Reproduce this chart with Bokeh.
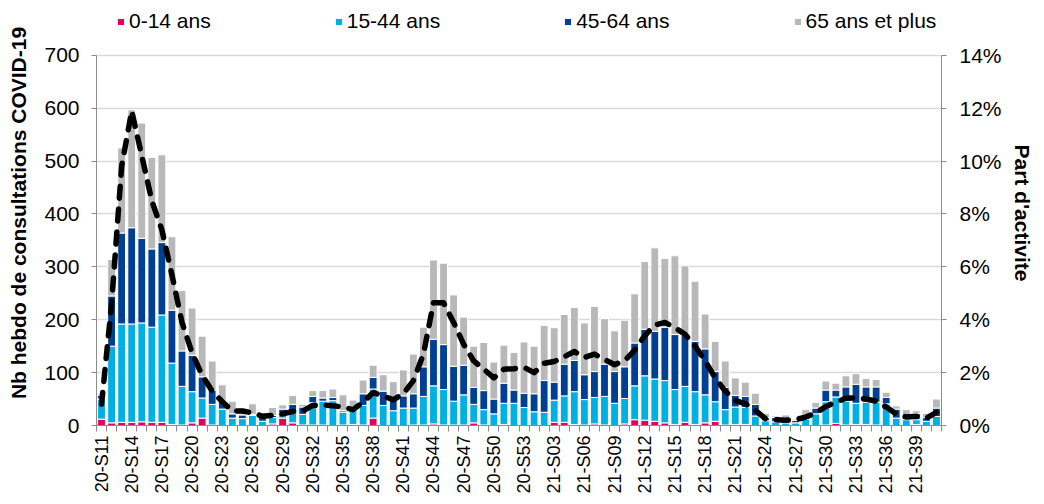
import math
from bokeh.plotting import figure
from bokeh.models import (ColumnDataSource, Range1d, LinearAxis, FixedTicker,
                          Legend, LegendItem, PrintfTickFormatter)
from bokeh.embed import file_html
from bokeh.resources import INLINE

# Weekly categories: 2020-S11 .. 2020-S53, 2021-S01 .. 2021-S41
weeks = [f"20-S{w:02d}" for w in range(11, 54)] + [f"21-S{w:02d}" for w in range(1, 42)]

age_0_14 = [12, 5, 6, 6, 7, 6, 6, 2, 1, 5, 14, 1, 0, 0, 0, 0, 0, 3, 14, 5,
            1, 1, 1, 0, 1, 2, 1, 14, 0, 0, 0, 1, 1, 3, 1, 1, 1, 5, 1, 0,
            2, 0, 0, 0, 0, 6, 6, 2, 1, 3, 1, 0, 3, 11, 10, 8, 5, 2, 6, 2,
            5, 8, 1, 2, 2, 0, 0, 0, 0, 0, 0, 0, 1, 4, 1, 2, 2, 1, 0, 0,
            0, 2, 0, 0]
age_15_44 = [38, 145, 186, 186, 187, 180, 203, 116, 73, 59, 38, 39, 31, 14, 13, 19, 8, 12, 10, 18,
             20, 42, 45, 47, 24, 28, 37, 55, 38, 28, 33, 32, 54, 72, 67, 45, 57, 35, 29, 22,
             40, 42, 34, 26, 25, 42, 50, 62, 48, 50, 54, 42, 48, 64, 84, 80, 80, 66, 68, 62,
             53, 37, 29, 33, 32, 18, 9, 7, 5, 5, 12, 22, 44, 50, 45, 40, 42, 43, 41, 14,
             11, 9, 8, 17]
age_45_64 = [7, 95, 172, 182, 160, 148, 137, 100, 67, 69, 40, 27, 15, 8, 7, 2, 8, 4, 7, 17,
             14, 12, 6, 6, 3, 5, 22, 22, 27, 20, 23, 27, 56, 88, 85, 66, 56, 32, 36, 28,
             38, 25, 27, 34, 60, 34, 60, 59, 47, 49, 61, 60, 60, 81, 88, 90, 101, 104, 97, 95,
             87, 57, 42, 22, 21, 22, 6, 8, 7, 5, 5, 11, 22, 13, 27, 36, 29, 29, 12, 17,
             4, 12, 7, 16]
age_65_plus = [3, 69, 161, 223, 218, 173, 166, 139, 114, 89, 77, 55, 31, 24, 13, 20, 8, 15, 8, 17,
               5, 11, 14, 16, 30, 13, 26, 23, 31, 35, 49, 75, 75, 150, 154, 135, 91, 78, 91, 70,
               72, 71, 97, 90, 104, 103, 94, 100, 98, 123, 86, 77, 88, 93, 128, 158, 130, 149, 131, 114,
               66, 57, 50, 33, 27, 21, 8, 3, 8, 2, 13, 11, 17, 13, 21, 20, 16, 14, 10, 6,
               15, 5, 8, 17]
# Share of activity (%), right axis
part_activite = [0.8, 4.6, 9.8, 11.9, 10.2, 8.5, 7.4, 5.7, 3.9, 2.75, 1.9, 1.3, 0.9, 0.55, 0.55, 0.48, 0.35, 0.38, 0.44, 0.53,
                 0.55, 0.76, 0.78, 0.75, 0.7, 0.6, 0.88, 1.25, 1.12, 0.97, 1.2, 1.7, 2.7, 4.64, 4.64, 3.9, 3.07, 2.44, 2.13, 1.8,
                 2.13, 2.15, 2.2, 2.0, 2.35, 2.42, 2.6, 2.8, 2.57, 2.7, 2.5, 2.3, 2.45, 2.85, 3.4, 3.8, 3.9, 3.7, 3.45, 3.0,
                 2.45, 1.8, 1.3, 0.95, 0.82, 0.57, 0.26, 0.22, 0.2, 0.22, 0.32, 0.47, 0.72, 0.88, 1.03, 1.05, 1.0, 0.92, 0.7, 0.44,
                 0.32, 0.35, 0.28, 0.5]

series_names = ["0-14 ans", "15-44 ans", "45-64 ans", "65 ans et plus"]
colors = ["#E4005B", "#00B0E2", "#003F91", "#B8B8B8"]
y_ticks = [0, 100, 200, 300, 400, 500, 600, 700]
pct_ticks = [0, 2, 4, 6, 8, 10, 12, 14]

FONT = "Liberation Sans"
AX_COLOR = "#8C8C8C"

# layout: the plot frame starts at the top of the figure so the legend can sit
# inside it; the value range is extended so that 700 lands ~55px from the top.
W, H = 1036, 496
TOP_700_PX = 55          # screen y of the 700 gridline
BOTTOM_PX = 426          # expected screen y of the baseline
y_max = 700 * BOTTOM_PX / (BOTTOM_PX - TOP_700_PX)

n = len(weeks)
x = list(range(n))
src = ColumnDataSource(dict(x=x, week=weeks, a=age_0_14, b=age_15_44, c=age_45_64,
                            d=age_65_plus, pct=part_activite))

p = figure(width=W, height=H, output_backend="svg", toolbar_location=None,
           x_range=Range1d(-0.5, n - 0.5), y_range=Range1d(0, y_max),
           min_border_left=96, min_border_right=88, min_border_top=0,
           min_border_bottom=H - BOTTOM_PX)
p.extra_y_ranges = {"pct": Range1d(0, y_max / 50)}
p.outline_line_color = None
p.background_fill_color = "white"

renderers = p.vbar_stack(["a", "b", "c", "d"], x="x", width=0.78, color=colors,
                         line_color="white", line_width=1, source=src)

p.line("x", "pct", source=src, y_range_name="pct", color="black", line_width=5.5,
       line_dash="12 11", line_cap="round", line_join="round")

# x axis
xax = p.xaxis[0]
xax.ticker = FixedTicker(ticks=list(range(0, n, 3)), minor_ticks=[i - 0.5 for i in range(n + 1)])
xax.major_label_overrides = {i: weeks[i] for i in range(0, n, 3)}
xax.major_label_orientation = math.pi / 2
xax.major_tick_in = 0
xax.major_tick_out = 0
xax.minor_tick_in = 0
xax.minor_tick_out = 6
xax.minor_tick_line_color = AX_COLOR
xax.axis_line_color = AX_COLOR
xax.major_label_standoff = 4
xax.major_label_text_font = FONT
xax.major_label_text_font_size = "18px"
xax.major_label_text_color = "black"

# left axis
yax = p.yaxis[0]
yax.ticker = FixedTicker(ticks=y_ticks)
yax.bounds = (0, 700)
yax.major_tick_in = 0
yax.major_tick_out = 5
yax.minor_tick_line_color = None
yax.axis_line_color = AX_COLOR
yax.major_tick_line_color = AX_COLOR
yax.major_label_standoff = 12
yax.major_label_text_font = FONT
yax.major_label_text_font_size = "21px"
yax.major_label_text_color = "black"
yax.axis_label = "Nb hebdo de consultations COVID-19"
yax.axis_label_text_font = FONT
yax.axis_label_text_font_size = "21px"
yax.axis_label_text_font_style = "bold"
yax.axis_label_text_color = "black"
yax.axis_label_standoff = 11

# right axis
rax = LinearAxis(y_range_name="pct", ticker=FixedTicker(ticks=pct_ticks),
                 formatter=PrintfTickFormatter(format="%d%%"), bounds=(0, 14))
rax.major_tick_in = 0
rax.major_tick_out = 5
rax.minor_tick_line_color = None
rax.axis_line_color = AX_COLOR
rax.major_tick_line_color = AX_COLOR
rax.major_label_standoff = 13
rax.major_label_text_font = FONT
rax.major_label_text_font_size = "21px"
rax.major_label_text_color = "black"
rax.axis_label = "Part d'activite"
rax.axis_label_text_font = FONT
rax.axis_label_text_font_size = "21px"
rax.axis_label_text_font_style = "bold"
rax.axis_label_text_color = "black"
rax.axis_label_standoff = 6
p.add_layout(rax, "right")

# grid
p.xgrid.visible = False
p.ygrid.ticker = FixedTicker(ticks=y_ticks[1:])
p.ygrid.grid_line_color = "#D9D9D9"
p.ygrid.grid_line_width = 1.5

# legend inside the (extended) frame, above the 700 line
items = [LegendItem(label=nm, renderers=[r]) for nm, r in zip(series_names, renderers)]
legend = Legend(items=items, orientation="horizontal", location=(20, BOTTOM_PX - 34),
                label_text_font=FONT, label_text_font_size="21px", label_text_color="black",
                glyph_width=9, glyph_height=9, label_standoff=4, spacing=123,
                padding=0, margin=0, border_line_color=None, background_fill_alpha=0)
p.add_layout(legend, "center")

open("out.html", "w").write(file_html(p, INLINE))
